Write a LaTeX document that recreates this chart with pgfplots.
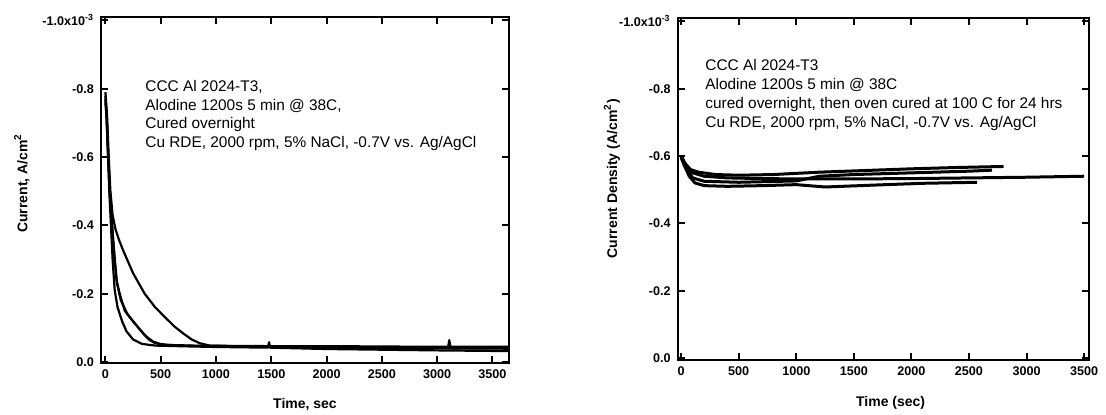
\documentclass[border=0pt]{standalone}
\usepackage{fontspec}
\setmainfont{Liberation Sans}
\usepackage{pgfplots}
\pgfplotsset{compat=1.18}

\pgfplotsset{
  ecplot/.style={
    scale only axis,
    axis line style={line width=1pt},
    tick style={line width=1pt, black},
    tick align=inside,
    major tick length=3.5pt,
    y dir=reverse,
    xtick={0,500,...,3500},
    xticklabels={0,500,1000,1500,2000,2500,3000,3500},
    ytick={0,-0.2,-0.4,-0.6,-0.8,-1.0},
    yticklabels={0.0,-0.2,-0.4,-0.6,-0.8,{-1.0x10\textsuperscript{-3}}},
    ticklabel style={font=\fontsize{6.3}{7}\selectfont\bfseries},
    label style={font=\fontsize{7}{8}\selectfont\bfseries},
    cycle list={black},
    no markers,
    every axis plot/.append style={line width=1.1pt, line join=round},
  }
}

\begin{document}
\begin{tikzpicture}
\useasboundingbox (0,0) rectangle (553pt,-207pt);

% left panel
\begin{axis}[ecplot,
  at={(50.5pt,-181.5pt)}, anchor=south west,
  width=204pt, height=173pt,
  xmin=-40, xmax=3650, ymin=-1.01, ymax=0.003,
  xlabel={Time, sec},
  ylabel={Current, A/cm\textsuperscript{2}},
  xlabel style={at={(axis description cs:0.5,-0.121)}, anchor=center},
  ylabel style={at={(axis description cs:-0.194,0.52)}, anchor=center},
]
\addplot coordinates {(0,-0.77) (10,-0.72) (20,-0.63) (35,-0.5) (50,-0.4) (65,-0.3) (84,-0.21) (110,-0.16) (150,-0.12) (190,-0.09) (250,-0.066) (330,-0.053) (450,-0.048) (700,-0.046) (1000,-0.044) (1470,-0.042) (1480,-0.058) (1490,-0.042) (2000,-0.038) (2500,-0.036) (3000,-0.034) (3640,-0.032)};
\addplot coordinates {(0,-0.76) (10,-0.72) (25,-0.6) (40,-0.49) (60,-0.4) (80,-0.31) (100,-0.24) (129,-0.2) (175,-0.15) (235,-0.125) (300,-0.1) (350,-0.08) (400,-0.064) (450,-0.055) (550,-0.05) (800,-0.048) (1200,-0.047) (1700,-0.046) (2200,-0.046) (2700,-0.045) (3100,-0.045) (3110,-0.064) (3120,-0.045) (3640,-0.045)};
\addplot coordinates {(0,-0.78) (10,-0.73) (25,-0.61) (45,-0.47) (65,-0.38) (85,-0.3) (105,-0.23) (140,-0.18) (200,-0.14) (260,-0.115) (320,-0.092) (380,-0.072) (430,-0.06) (500,-0.052) (650,-0.048) (1000,-0.046) (1500,-0.044) (2000,-0.042) (2500,-0.041) (3000,-0.04) (3640,-0.039)};
\addplot coordinates {(0,-0.79) (15,-0.72) (30,-0.6) (45,-0.5) (65,-0.43) (90,-0.39) (120,-0.36) (160,-0.327) (250,-0.26) (355,-0.2) (450,-0.16) (536,-0.132) (620,-0.105) (702,-0.084) (780,-0.066) (853,-0.055) (943,-0.048) (1200,-0.046) (1500,-0.045) (2000,-0.043) (2500,-0.042) (3000,-0.041) (3640,-0.04)};
\end{axis}

\node[anchor=north west, align=left, inner sep=0pt,
  font=\fontsize{7.7}{9.2}\selectfont] at (72.5pt,-40.2pt)
  {CCC Al 2024-T3,\\Alodine 1200s 5 min @ 38C,\\Cured overnight\\Cu RDE, 2000 rpm, 5\% NaCl, -0.7V vs. Ag/AgCl};

% right panel
\begin{axis}[ecplot,
  at={(338.85pt,-180pt)}, anchor=south west,
  width=205.5pt, height=171pt,
  xmin=-30, xmax=3540, ymin=-1.01, ymax=0.006,
  xlabel={Time (sec)},
  ylabel={Current Density (A/cm\textsuperscript{2})},
  xlabel style={at={(axis description cs:0.518,-0.126)}, anchor=center},
  ylabel style={at={(axis description cs:-0.16,0.53)}, anchor=center},
  every axis plot/.append style={line width=1.5pt},
]
\addplot coordinates {(0,-0.60) (20,-0.585) (50,-0.565) (100,-0.55) (200,-0.54) (400,-0.535) (700,-0.533) (1000,-0.532) (1500,-0.532) (2000,-0.533) (2500,-0.535) (3000,-0.537) (3500,-0.54)};
\addplot coordinates {(0,-0.6) (30,-0.58) (80,-0.56) (150,-0.552) (300,-0.545) (500,-0.543) (800,-0.545) (1200,-0.552) (1600,-0.557) (2000,-0.562) (2400,-0.566) (2800,-0.569)};
\addplot coordinates {(0,-0.595) (30,-0.57) (70,-0.54) (120,-0.52) (200,-0.512) (400,-0.51) (700,-0.512) (1000,-0.515) (1250,-0.508) (1700,-0.514) (2100,-0.519) (2570,-0.522)};
\addplot coordinates {(0,-0.6) (40,-0.565) (100,-0.535) (200,-0.525) (500,-0.522) (1000,-0.526) (1200,-0.54) (1500,-0.545) (2000,-0.55) (2500,-0.555) (2700,-0.558)};
\end{axis}

\node[anchor=north west, align=left, inner sep=0pt,
  font=\fontsize{7.7}{9.5}\selectfont] at (352.5pt,-29.5pt)
  {CCC Al 2024-T3\\Alodine 1200s 5 min @ 38C\\cured overnight, then oven cured at 100 C for 24 hrs\\Cu RDE, 2000 rpm, 5\% NaCl, -0.7V vs. Ag/AgCl};
\end{tikzpicture}
\end{document}
